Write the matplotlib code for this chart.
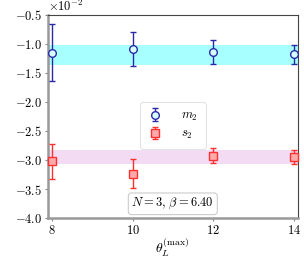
import numpy as np
import matplotlib
matplotlib.use("Agg")
import matplotlib.pyplot as plt

plt.rcParams['font.family'] = 'serif'
plt.rcParams['font.serif'] = ['cmr10', 'DejaVu Serif']
plt.rcParams['mathtext.fontset'] = 'cm'
plt.rcParams['axes.formatter.use_mathtext'] = True
plt.rcParams['axes.unicode_minus'] = True

theta = [8, 10, 12, 14]
m2 = np.array([-1.15, -1.09, -1.14, -1.18]) * 1e-2
m2_err = np.array([0.49, 0.29, 0.20, 0.17]) * 1e-2
s2 = np.array([-3.02, -3.24, -2.93, -2.95]) * 1e-2
s2_err = np.array([0.30, 0.25, 0.13, 0.12]) * 1e-2
m2_band = (-1.19e-2, 0.17e-2)
s2_band = (-2.95e-2, 0.12e-2)

fig = plt.figure(figsize=(3.04, 2.58), dpi=100)
ax = fig.add_axes([0.158, 0.155, 0.821, 0.787])

ax.axhspan(m2_band[0] - m2_band[1], m2_band[0] + m2_band[1], color='#a8ffff', lw=0, zorder=1)
ax.axhspan(s2_band[0] - s2_band[1], s2_band[0] + s2_band[1], color='#f3dcf3', lw=0, zorder=1)

ax.errorbar(theta, m2, yerr=m2_err, fmt='o', color='#2a2aa8', mfc='#d8ffff', mec='#2a2aa8',
            ms=5.5, mew=1.0, capsize=2.5, elinewidth=1.0, capthick=1.0, label='$m_2$', zorder=3,
            clip_on=False)
ax.errorbar(theta, s2, yerr=s2_err, fmt='s', color='#ff3030', mfc='#ffaaaa', mec='#ff3030',
            ms=5.5, mew=1.0, capsize=2.5, elinewidth=1.0, capthick=1.0, label='$s_2$', zorder=3,
            clip_on=False)

ax.set_xlim(7.9, 14.1)
ax.set_ylim(-4.0e-2, -0.5e-2)
ax.set_xticks([8, 10, 12, 14])
ax.set_yticks(np.arange(-4.0, -0.49, 0.5) * 1e-2)
ax.ticklabel_format(axis='y', style='sci', scilimits=(-2, -2), useMathText=True)

for s in ['left', 'bottom']:
    ax.spines[s].set_color('#999999')
    ax.spines[s].set_linewidth(1.8)
for s in ['top', 'right']:
    ax.spines[s].set_color('#444444')
    ax.spines[s].set_linewidth(0.8)

ax.tick_params(axis='both', direction='out', length=2.5, width=0.8, color='#888888',
               labelsize=9, pad=1.5)
ax.tick_params(top=False, right=False)
ax.yaxis.get_offset_text().set_fontsize(9)

ax.set_xlabel(r'$\theta_L^{(\mathrm{max})}$', fontsize=10, labelpad=0)
ax.xaxis.set_label_coords(0.5, -0.09, transform=ax.transAxes)
ax.xaxis.label.set_va('top')

leg = ax.legend(loc='center', bbox_to_anchor=(0.5, 0.455), fontsize=9, frameon=True,
                handlelength=1.2, borderpad=0.6, labelspacing=0.4, handletextpad=1.5)
leg.get_frame().set_edgecolor('#dddddd')
leg.get_frame().set_linewidth(0.8)

ax.text(0.5, 0.07, r'$N = 3,\, \beta = 6.40$', transform=ax.transAxes, ha='center', va='center',
        fontsize=9, bbox=dict(boxstyle='round,pad=0.25', fc='white', ec='#cccccc', lw=0.8))

fig.savefig('out.png', dpi=100)
